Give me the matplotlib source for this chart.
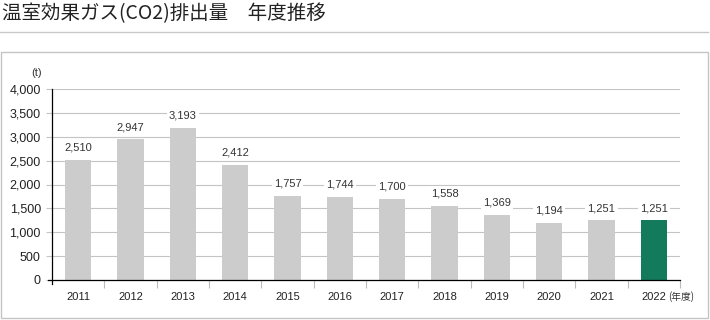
import numpy as np
import matplotlib.pyplot as plt
from matplotlib.patches import Rectangle
from matplotlib.lines import Line2D

years = ['2011', '2012', '2013', '2014', '2015', '2016', '2017', '2018', '2019', '2020', '2021', '2022']
emissions = [2510, 2947, 3193, 2412, 1757, 1744, 1700, 1558, 1369, 1194, 1251, 1251]
title = '温室効果ガス(CO2)排出量\u3000年度推移'
y_ticks = [0, 500, 1000, 1500, 2000, 2500, 3000, 3500, 4000]

num_font = ['Liberation Sans', 'Noto Sans CJK JP']
jp_font = ['Noto Sans CJK JP', 'DejaVu Sans']

fig = plt.figure(figsize=(7.1, 3.2), dpi=100)
ax = fig.add_axes([52 / 710, 1 - 280 / 320, 628 / 710, 191 / 320])

x = np.arange(len(years))
colors = ['#cccccc'] * (len(years) - 1) + ['#137a5b']
ax.bar(x, emissions, width=0.5, color=colors, zorder=2)

for xi, v in zip(x, emissions):
    ax.text(xi, v + 150, f'{v:,}', ha='center', va='bottom', fontsize=8,
            family=num_font, color='#333333', zorder=3,
            bbox=dict(facecolor='white', edgecolor='none', pad=1.5))

ax.set_xlim(-0.5, len(years) - 0.5)
ax.set_ylim(0, 4000)
ax.set_yticks(y_ticks)
ax.set_yticklabels([f'{t:,}' for t in y_ticks], family=num_font, fontsize=9, color='#222222')
ax.set_xticks(x)
ax.set_xticklabels(years, family=num_font, fontsize=8, color='#222222')
ax.set_xticks(np.arange(len(years)) + 0.5, minor=True)
ax.tick_params(axis='x', which='major', length=0, pad=9)
ax.tick_params(axis='x', which='minor', length=6, color='#bbbbbb', width=0.8)
ax.tick_params(axis='y', length=4, color='#c4c4c4', width=0.8, pad=4)
ax.grid(axis='y', color='#c4c4c4', linewidth=0.8, zorder=0)
for s in ['top', 'right']:
    ax.spines[s].set_visible(False)
ax.spines['left'].set_linewidth(0.9)
ax.spines['left'].set_bounds(-90, 4000)
ax.spines['bottom'].set_linewidth(0.9)
ax.spines['bottom'].set_bounds(-0.58, len(years) - 0.5)
ax.spines['bottom'].set_zorder(4)

ax.text(-0.016, 1.06, '(t)', transform=ax.transAxes, ha='right', va='bottom',
        fontsize=8, family=num_font, color='#333333')
ax.text(11.27, -0.088, '(年度)', transform=ax.get_xaxis_transform(), ha='left', va='center',
        fontsize=7, family=jp_font, color='#333333')

# title, rule and frame
fig.text(2 / 710, 1 - 14 / 320, title, ha='left', va='center', fontsize=14,
         family=jp_font, color='#222222')
fig.add_artist(Line2D([0, 708 / 710], [1 - 32 / 320] * 2, color='#c8c8c8', linewidth=1))
fig.add_artist(Rectangle((1.5 / 710, 2 / 320), 706 / 710, 266 / 320, transform=fig.transFigure,
                         fill=False, edgecolor='#c4c4c4', linewidth=1))

fig.savefig('out.png', dpi=100)
